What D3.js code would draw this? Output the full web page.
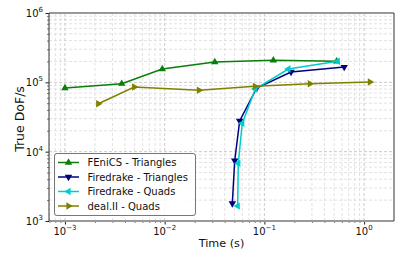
<!DOCTYPE html>
<html>
<head>
<meta charset="utf-8">
<script src="https://cdn.jsdelivr.net/npm/d3@7"></script>
<style>
  body { margin: 0; background: #fff; }
  svg { font-family: "DejaVu Sans", sans-serif; }
</style>
</head>
<body>
<svg id="chart" width="415" height="260"></svg>
<script>
const seriesNames = ['FEniCS - Triangles', 'Firedrake - Triangles', 'Firedrake - Quads', 'deal.II - Quads']
const fenicsTime = [0.001, 0.00371, 0.00946, 0.0318, 0.123, 0.531]
const fenicsDofs = [82800, 95500, 155600, 196400, 207500, 201000]
const fdTriTime = [0.0477, 0.0504, 0.0565, 0.0838, 0.185, 0.632]
const fdTriDofs = [1795, 7390, 27700, 82800, 141000, 166000]
const fdQuadTime = [0.054, 0.0547, 0.060, 0.081, 0.174, 0.543]
const fdQuadDofs = [1640, 6780, 25600, 80000, 155600, 201000]
const dealTime = [0.00216, 0.00495, 0.0221, 0.0805, 0.286, 1.146]
const dealDofs = [49100, 85600, 76700, 87500, 95500, 100900]
const xTicks = [1e-3, 1e-2, 1e-1, 1e0]
const yTicks = [1e3, 1e4, 1e5, 1e6]

const color = ['#0a7d0a', '#000080', '#00cccc', '#808000']
const markerRot = [0, 180, 270, 90] // ^ v < >

const width = 415
const height = 260
const margin = { left: 49, right: 21, top: 13, bottom: 39 }

const series = [
  [fenicsTime, fenicsDofs],
  [fdTriTime, fdTriDofs],
  [fdQuadTime, fdQuadDofs],
  [dealTime, dealDofs]
].map(([t, d], i) => ({
  name: seriesNames[i],
  color: color[i],
  rot: markerRot[i],
  points: t.map((v, j) => ({ x: v, y: d[j] }))
}))

const x = d3.scaleLog()
  .domain([Math.pow(10, -3.16), Math.pow(10, 0.30)])
  .range([margin.left, width - margin.right])
const y = d3.scaleLog()
  .domain([1e3, 1e6])
  .range([height - margin.bottom, margin.top])

const svg = d3.select('#chart')

// minor + major ticks
const minor = (lo, hi) => {
  const out = []
  for (let e = lo; e < hi; e++) {
    for (let k = 2; k <= 9; k++) out.push(k * Math.pow(10, e))
  }
  return out
}
const xMinor = minor(-4, 1).filter(v => v >= x.domain()[0] && v <= x.domain()[1])
const yMinor = minor(3, 6)

const grid = svg.append('g')
grid.selectAll('.xminor').data(xMinor).enter().append('line')
  .attr('x1', d => x(d)).attr('x2', d => x(d))
  .attr('y1', margin.top).attr('y2', height - margin.bottom)
  .attr('stroke', '#dadada').attr('stroke-width', 0.8).attr('stroke-dasharray', '3,2')
grid.selectAll('.yminor').data(yMinor).enter().append('line')
  .attr('x1', margin.left).attr('x2', width - margin.right)
  .attr('y1', d => y(d)).attr('y2', d => y(d))
  .attr('stroke', '#dadada').attr('stroke-width', 0.8).attr('stroke-dasharray', '3,2')
grid.selectAll('.xmajor').data(xTicks).enter().append('line')
  .attr('x1', d => x(d)).attr('x2', d => x(d))
  .attr('y1', margin.top).attr('y2', height - margin.bottom)
  .attr('stroke', '#c4c4c4').attr('stroke-width', 0.9).attr('stroke-dasharray', '3,2')
grid.selectAll('.ymajor').data(yTicks).enter().append('line')
  .attr('x1', margin.left).attr('x2', width - margin.right)
  .attr('y1', d => y(d)).attr('y2', d => y(d))
  .attr('stroke', '#c4c4c4').attr('stroke-width', 0.9).attr('stroke-dasharray', '3,2')

// axes
const fmtTick = (sel, v) => {
  const e = Math.round(Math.log10(v))
  sel.append('tspan').text('10')
  sel.append('tspan').attr('dy', -5).attr('font-size', 7).text(e < 0 ? '\u2212' + (-e) : e)
}

const xAxis = svg.append('g').attr('transform', `translate(0,${height - margin.bottom})`)
  .call(d3.axisBottom(x).tickValues(xTicks).tickSize(3.5).tickFormat(''))
xAxis.select('.domain').remove()
xAxis.selectAll('.tick line').attr('stroke', '#222')
svg.append('g').attr('transform', `translate(0,${height - margin.bottom})`)
  .call(d3.axisBottom(x).tickValues(xMinor).tickSize(2).tickFormat(''))
  .call(g => g.select('.domain').remove())
  .selectAll('.tick line').attr('stroke', '#222').attr('stroke-width', 0.6)
xTicks.forEach(v => {
  const t = svg.append('text')
    .attr('x', x(v)).attr('y', height - margin.bottom + 14)
    .attr('text-anchor', 'middle').attr('font-size', 10).attr('fill', '#111')
  fmtTick(t, v)
})

const yAxis = svg.append('g').attr('transform', `translate(${margin.left},0)`)
  .call(d3.axisLeft(y).tickValues(yTicks).tickSize(3.5).tickFormat(''))
yAxis.select('.domain').remove()
yAxis.selectAll('.tick line').attr('stroke', '#222')
svg.append('g').attr('transform', `translate(${margin.left},0)`)
  .call(d3.axisLeft(y).tickValues(yMinor).tickSize(2).tickFormat(''))
  .call(g => g.select('.domain').remove())
  .selectAll('.tick line').attr('stroke', '#222').attr('stroke-width', 0.6)
yTicks.forEach(v => {
  const t = svg.append('text')
    .attr('x', margin.left - 6).attr('y', y(v) + 4)
    .attr('text-anchor', 'end').attr('font-size', 10).attr('fill', '#111')
  fmtTick(t, v)
})

// frame
const x0 = margin.left, x1 = width - margin.right
const y0 = margin.top, y1 = height - margin.bottom
svg.append('line').attr('x1', x0).attr('x2', x1).attr('y1', y0).attr('y2', y0)
  .attr('stroke', '#999').attr('stroke-width', 2)
svg.append('line').attr('x1', x0).attr('x2', x1).attr('y1', y1).attr('y2', y1)
  .attr('stroke', '#999').attr('stroke-width', 2)
svg.append('line').attr('x1', x0).attr('x2', x0).attr('y1', y0).attr('y2', y1)
  .attr('stroke', '#333').attr('stroke-width', 1)
svg.append('line').attr('x1', x1).attr('x2', x1).attr('y1', y0).attr('y2', y1)
  .attr('stroke', '#333').attr('stroke-width', 1)

// labels
svg.append('text').attr('x', (x0 + x1) / 2).attr('y', 247)
  .attr('text-anchor', 'middle').attr('font-size', 11.2).attr('fill', '#111').text('Time (s)')
svg.append('text')
  .attr('transform', `translate(24,${(y0 + y1) / 2 + 2}) rotate(-90)`)
  .attr('text-anchor', 'middle').attr('font-size', 12.5).attr('fill', '#111').text('True DoF/s')

// lines
const line = d3.line().x(d => x(d.x)).y(d => y(d.y))
const tri = d3.symbol().type(d3.symbolTriangle).size(24)

const sg = svg.append('g').selectAll('.series').data(series).enter().append('g')
sg.append('path')
  .attr('d', d => line(d.points))
  .attr('fill', 'none')
  .attr('stroke', d => d.color)
  .attr('stroke-width', 1.5)
sg.each(function (s) {
  d3.select(this).selectAll('path.m').data(s.points).enter().append('path')
    .attr('class', 'm')
    .attr('d', tri())
    .attr('transform', d => `translate(${x(d.x)},${y(d.y)}) rotate(${s.rot})`)
    .attr('fill', s.color)
})

// legend
const lg = svg.append('g').attr('transform', 'translate(54.5,153.5)')
lg.append('rect')
  .attr('width', 141).attr('height', 62).attr('rx', 2.5)
  .attr('fill', '#fff').attr('fill-opacity', 0.8)
  .attr('stroke', '#555').attr('stroke-width', 0.8)
const item = lg.selectAll('.item').data(series).enter().append('g')
  .attr('transform', (d, i) => `translate(0,${9 + i * 14.5})`)
item.append('line').attr('x1', 3.5).attr('x2', 24.5)
  .attr('stroke', d => d.color).attr('stroke-width', 1.5)
item.append('path').attr('d', tri())
  .attr('transform', d => `translate(14,0) rotate(${d.rot})`)
  .attr('fill', d => d.color)
item.append('text').attr('x', 33).attr('y', 3.6)
  .attr('font-size', 10).attr('fill', '#111').text(d => d.name)
</script>
</body>
</html>
